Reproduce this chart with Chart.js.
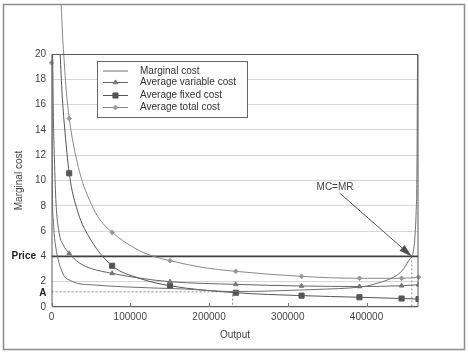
<!DOCTYPE html>
<html><head><meta charset="utf-8">
<script src="https://cdn.jsdelivr.net/npm/chart.js@4.4.1/dist/chart.umd.min.js"></script>
<style>html,body{margin:0;padding:0;background:#fff;}canvas{display:block;}</style>
</head><body>
<canvas id="c" width="468" height="355"></canvas>
<script>
// ---- data ----
const seriesNames = ['Marginal cost', 'Average variable cost', 'Average fixed cost', 'Average total cost'];
const markerOutputs = [22500, 77000, 150500, 234000, 317500, 391000, 444500, 466000];

const mcOutput = [550, 900, 1300, 2200, 3400, 5000, 7600, 11000, 16500, 24000, 33000, 54000, 90000, 130000, 170000, 200000, 230000, 270000, 315000, 350000, 378000, 400000, 412000, 425000, 437000, 445000, 450000, 454000, 457500, 460000, 461500, 463000, 464000, 464800];
const mcValues = [20, 12.4, 8.5, 7.0, 5.8, 4.9, 4.0, 3.2, 2.4, 2.1, 1.87, 1.74, 1.6, 1.5, 1.42, 1.3, 1.22, 1.25, 1.34, 1.42, 1.5, 1.65, 1.85, 2.1, 2.45, 2.85, 3.3, 3.7, 4.0, 4.6, 5.6, 7.5, 10.5, 20];

const avcOutput = [1500, 2400, 3400, 5500, 9900, 15000, 22500, 35000, 50000, 77000, 110000, 150500, 234000, 317500, 391000, 444500, 466000];
const avcValues = [20, 15, 12.4, 8.5, 5.8, 4.9, 4.24, 3.5, 3.05, 2.66, 2.3, 2.0, 1.79, 1.66, 1.62, 1.68, 1.76];

const afcOutput = [11000, 13500, 16500, 22500, 33000, 50000, 77000, 110000, 150500, 234000, 317500, 391000, 444500, 466000];
const afcValues = [20, 16.8, 14.3, 10.57, 7.6, 5.3, 3.26, 2.3, 1.68, 1.13, 0.9, 0.77, 0.67, 0.63];

const atcOutput = [12300, 14000, 15500, 18500, 22500, 36000, 50000, 61500, 77000, 110000, 130000, 150500, 190000, 234000, 317500, 391000, 444500, 466000];
const atcValues = [23.9, 21.5, 20, 17.3, 14.9, 10.6, 8.2, 6.9, 5.9, 4.5, 4.0, 3.66, 3.15, 2.82, 2.42, 2.27, 2.27, 2.35];

const axisMarkOutput = [0];
const axisMarkValues = [19.3];

const price = 4;
const priceOutputRange = [0, 466000];
const mcEqualsMrOutput = 457500;
const pointA = 1.2;
const pointAOutput = 230000;
const annotationText = 'MC=MR';
const annotationTextAt = [360000, 9.5];
const arrowStartAt = [366000, 9.0];

const xTickValues = [0, 100000, 200000, 300000, 400000];
const xMax = 466000;
const yMax = 20, yStep = 2;

// ---- helpers ----
const FONT = "'Liberation Sans', Arial, sans-serif";
const pts = (xs, ys) => xs.map((x, i) => ({x: x, y: ys[i]}));
const isMarker = (ctx) => ctx.raw && markerOutputs.includes(ctx.raw.x);

const styles = [
  {color: '#6f6f6f', point: false},
  {color: '#666666', point: 'triangle', r: 2.6, fill: '#777'},
  {color: '#555555', point: 'rect', r: 3.6, fill: '#555'},
  {color: '#8a8a8a', point: 'rectRot', r: 2.3, fill: '#999'}
];

function curve(label, data, st, extra) {
  return Object.assign({
    label: label, data: data, showLine: true,
    borderColor: st.color, borderWidth: 1,
    cubicInterpolationMode: 'monotone',
    pointStyle: st.point || 'circle',
    pointRadius: st.point ? (ctx => isMarker(ctx) ? st.r : 0) : 0,
    pointBackgroundColor: st.fill || st.color,
    pointBorderColor: st.fill || st.color,
    pointBorderWidth: 1
  }, extra || {});
}

const datasets = [
  curve(seriesNames[0], pts(mcOutput, mcValues), styles[0]),
  curve(seriesNames[1], pts(avcOutput, avcValues), styles[1]),
  curve(seriesNames[2], pts(afcOutput, afcValues), styles[2]),
  curve(seriesNames[3], pts(atcOutput, atcValues), styles[3], {clip: false}),
  {label: 'price', data: pts(priceOutputRange, [price, price]), showLine: true, borderColor: '#3f3f3f', borderWidth: 1.6, pointRadius: 0},
  {label: 'A', data: pts([0, pointAOutput, pointAOutput], [pointA, pointA, 0]), showLine: true, borderColor: '#8a8a8a', borderWidth: 1, borderDash: [2, 2], pointRadius: 0},
  {label: 'q', data: pts([mcEqualsMrOutput, mcEqualsMrOutput], [price, 0]), showLine: true, borderColor: '#8a8a8a', borderWidth: 1, borderDash: [2, 2], pointRadius: 0},
  {label: 'mark', data: pts(axisMarkOutput, axisMarkValues), showLine: false, pointStyle: 'rectRot', pointRadius: 2.2, pointBackgroundColor: '#999', pointBorderColor: '#999', clip: false}
];

function drawMarker(ctx, st, x, y) {
  if (!st.point) return;
  ctx.save();
  ctx.fillStyle = st.fill; ctx.strokeStyle = st.fill; ctx.lineWidth = 1;
  Chart.helpers.drawPoint(ctx, {pointStyle: st.point, radius: st.r, rotation: 0, borderWidth: 1}, x, y);
  ctx.restore();
}

const decor = {
  id: 'decor',
  beforeDraw(chart) {
    const c = chart.ctx;
    c.save();
    c.fillStyle = '#ffffff';
    c.fillRect(0, 0, chart.width, chart.height);
    c.strokeStyle = '#8c8c8c';
    c.lineWidth = 1.5;
    c.strokeRect(3.5, 4.5, 461, 345);
    c.restore();
  },
  afterDatasetsDraw(chart) {
    const c = chart.ctx, a = chart.chartArea;
    const xs = chart.scales.x, ys = chart.scales.y;
    c.save();
    // plot frame
    c.strokeStyle = '#5a5a5a'; c.lineWidth = 1;
    c.beginPath();
    c.moveTo(a.left + 0.5, a.top + 0.5); c.lineTo(a.right - 0.5, a.top + 0.5);
    c.lineTo(a.right - 0.5, a.bottom - 0.5); c.lineTo(a.left + 0.5, a.bottom - 0.5);
    c.closePath(); c.stroke();
    // inward x ticks
    c.strokeStyle = '#777';
    xTickValues.forEach(v => {
      const px = Math.round(xs.getPixelForValue(v)) + 0.5;
      c.beginPath(); c.moveTo(px, a.bottom); c.lineTo(px, a.bottom - 4); c.stroke();
    });
    // Price and A labels
    c.fillStyle = '#222';
    c.font = 'bold 10px ' + FONT;
    c.textAlign = 'right'; c.textBaseline = 'middle';
    c.fillText('Price', 36, ys.getPixelForValue(price));
    c.fillText('A', 46.5, ys.getPixelForValue(pointA) + 1.5);
    // annotation
    c.font = '10px ' + FONT;
    c.fillStyle = '#444';
    c.textAlign = 'center';
    c.fillText(annotationText, xs.getPixelForValue(annotationTextAt[0]), ys.getPixelForValue(annotationTextAt[1]));
    const x0 = xs.getPixelForValue(arrowStartAt[0]), y0 = ys.getPixelForValue(arrowStartAt[1]);
    const x1 = xs.getPixelForValue(mcEqualsMrOutput), y1 = ys.getPixelForValue(price);
    const ang = Math.atan2(y1 - y0, x1 - x0);
    const L = 13, W = 3.8;
    const bx = x1 - L * Math.cos(ang), by = y1 - L * Math.sin(ang);
    c.strokeStyle = '#555'; c.lineWidth = 1;
    c.beginPath(); c.moveTo(x0, y0); c.lineTo(bx, by); c.stroke();
    c.fillStyle = '#505050';
    c.beginPath();
    c.moveTo(x1, y1);
    c.lineTo(bx + W * Math.sin(ang), by - W * Math.cos(ang));
    c.lineTo(bx - W * Math.sin(ang), by + W * Math.cos(ang));
    c.closePath(); c.fill();
    // legend
    c.fillStyle = '#fff';
    c.fillRect(97.5, 61.5, 150, 56);
    c.strokeStyle = '#666'; c.lineWidth = 1;
    c.strokeRect(97.5, 61.5, 150, 56);
    const rows = [70.5, 82, 95, 107];
    c.font = '10px ' + FONT; c.textAlign = 'left'; c.textBaseline = 'middle';
    seriesNames.forEach((name, i) => {
      const st = styles[i], y = rows[i];
      c.strokeStyle = st.color; c.lineWidth = 1;
      c.beginPath(); c.moveTo(103, y + 0.5); c.lineTo(128, y + 0.5); c.stroke();
      drawMarker(c, st, 115.5, y + 0.5);
      c.fillStyle = '#333';
      c.fillText(name, 140, y + 0.5);
    });
    c.restore();
  }
};

new Chart(document.getElementById('c'), {
  type: 'scatter',
  data: {datasets: datasets},
  plugins: [decor],
  options: {
    responsive: false, animation: false, events: [],
    layout: {padding: {top: 54, right: 49.5, left: 0, bottom: 0}},
    plugins: {legend: {display: false}, tooltip: {enabled: false}},
    scales: {
      x: {
        type: 'linear', min: 0, max: xMax,
        afterFit: s => { s.height = 48; },
        afterBuildTicks: s => { s.ticks = xTickValues.map(v => ({value: v})); },
        ticks: {includeBounds: false, padding: 4, maxRotation: 0, autoSkip: false, color: '#444',
          font: {family: FONT, size: 10}, callback: v => String(v)},
        grid: {display: false, drawTicks: false},
        border: {display: false},
        title: {display: true, text: 'Output', color: '#444', font: {family: FONT, size: 10}, padding: {top: 0, bottom: 14}}
      },
      y: {
        min: 0, max: yMax,
        afterFit: s => { s.width = 51.5; },
        ticks: {stepSize: yStep, padding: 5.5, color: '#444', font: {family: FONT, size: 10}},
        grid: {color: '#d6d6d6', drawTicks: false},
        border: {display: false},
        title: {display: true, text: 'Marginal cost', color: '#444', font: {family: FONT, size: 10}, padding: {top: 13, bottom: 0}}
      }
    }
  }
});
</script>
</body></html>
